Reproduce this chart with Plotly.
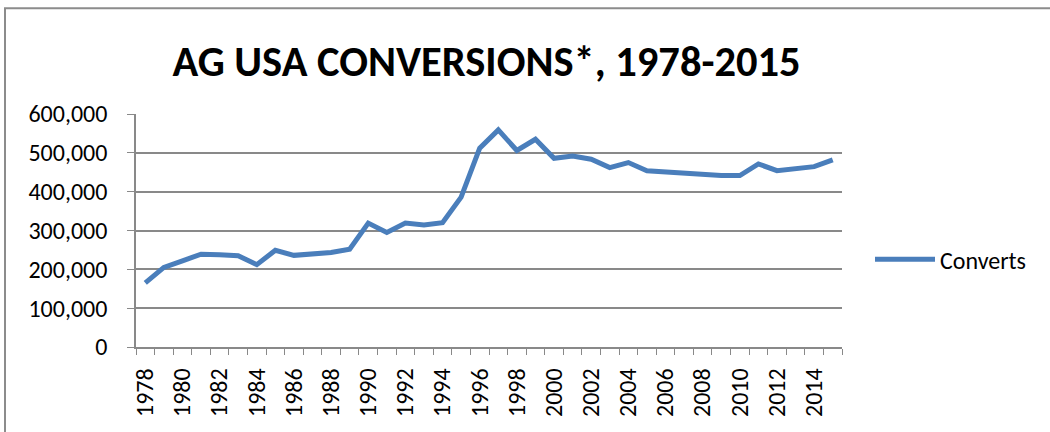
import plotly.graph_objects as go

years = list(range(1978, 2016))
converts = [165000, 205000, 222000, 239000, 237500, 235000, 212000, 249000, 236000, 241000,
            243500, 252000, 319000, 295000, 319000, 314000, 320000, 386000, 512000, 559000,
            506000, 535000, 486000, 492000, 483500, 462000, 475000, 454000, 451000, 446500,
            443000, 441500, 441500, 471500, 454000, 458000, 464500, 482000]
tick_years = list(range(1978, 2016, 2))
y_ticks = [0, 100000, 200000, 300000, 400000, 500000, 600000]
y_labels = ["0", "100,000", "200,000", "300,000", "400,000", "500,000", "600,000"]

FONT = "Carlito, Calibri, Lato, 'Open Sans', sans-serif"
GRID = "#898989"

fig = go.Figure()
fig.add_trace(go.Scatter(
    x=years, y=converts, mode="lines", name="Converts",
    line=dict(color="#4a7ebb", width=5),
))

L, R, T, B = 136, 842, 114, 347.5
W, H = 1050, 432

fig.update_layout(
    width=W, height=H,
    margin=dict(l=L, r=W - R, t=T, b=H - B, autoexpand=False),
    paper_bgcolor="white", plot_bgcolor="white",
    font=dict(family=FONT, size=24, color="#000000"),
    title=dict(text="<b>AG USA CONVERSIONS*, 1978-2015</b>",
               x=(173 + 800) / 2 / W, xanchor="center",
               y=1 - 61 / H, yanchor="middle",
               font=dict(family=FONT, size=42.5, color="#000000")),
    showlegend=True,
    legend=dict(x=(870 - L) / (R - L), xanchor="left",
                y=(B - 260) / (B - T), yanchor="middle",
                font=dict(family=FONT, size=24), bgcolor="rgba(0,0,0,0)",
                itemwidth=60, tracegroupgap=0),
    xaxis=dict(
        range=[1977.5, 2015.5], tickmode="array", tickvals=tick_years,
        ticktext=[str(y) for y in tick_years], tickangle=-90,
        ticks="", showgrid=False, zeroline=False,
        showline=True, linecolor=GRID, linewidth=1.5,
        tickfont=dict(family=FONT, size=24), ticklabelstandoff=10,
        minor=dict(tickmode="linear", tick0=1977.5, dtick=1, ticks="outside",
                   ticklen=6, tickcolor=GRID, tickwidth=1.2, showgrid=False),
    ),
    yaxis=dict(
        range=[0, 600000], tickmode="array", tickvals=y_ticks, ticktext=y_labels,
        showgrid=True, gridcolor=GRID, gridwidth=1.5, zeroline=False,
        showline=True, linecolor=GRID, linewidth=1.5,
        ticks="outside", ticklen=7, tickcolor=GRID, tickwidth=1.2,
        tickfont=dict(family=FONT, size=24), ticklabelstandoff=15,
    ),
    shapes=[dict(type="rect", xref="paper", yref="paper",
                 x0=(5 - L) / (R - L), x1=2.0,
                 y0=-1.0, y1=(B - 8) / (B - T),
                 line=dict(color="#8c8c8c", width=2), fillcolor="rgba(0,0,0,0)",
                 layer="below")],
)

fig.write_html("out.html", config={"displayModeBar": False},
               post_script="document.body.style.margin='0';")
